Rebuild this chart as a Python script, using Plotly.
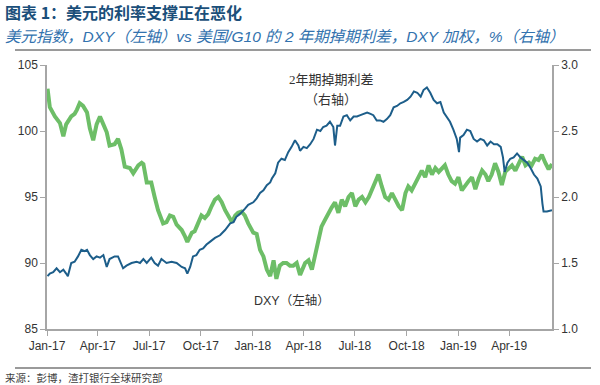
import plotly.graph_objects as go

# DXY (left axis)
dxy_dates = ["2017-01-02","2017-01-06","2017-01-15","2017-01-24","2017-01-30","2017-02-04","2017-02-13","2017-02-19","2017-02-23","2017-02-28",
"2017-03-06","2017-03-13","2017-03-18","2017-03-24","2017-03-30","2017-04-05","2017-04-11","2017-04-17","2017-04-22","2017-05-01",
"2017-05-07","2017-05-13","2017-05-19","2017-05-28","2017-06-03","2017-06-12","2017-06-18","2017-06-21","2017-06-27","2017-07-05",
"2017-07-11","2017-07-17","2017-07-26","2017-08-01","2017-08-07","2017-08-13","2017-08-19","2017-08-28","2017-09-03","2017-09-07",
"2017-09-15","2017-09-20","2017-09-26","2017-10-02","2017-10-08","2017-10-14","2017-10-20","2017-10-26","2017-11-01","2017-11-07",
"2017-11-13","2017-11-19","2017-11-25","2017-12-01","2017-12-06","2017-12-12","2017-12-18","2017-12-24","2018-01-02","2018-01-08",
"2018-01-14","2018-01-20","2018-01-26","2018-02-01","2018-02-07","2018-02-12","2018-02-18","2018-02-24","2018-03-02","2018-03-08",
"2018-03-14","2018-03-20","2018-03-26","2018-04-04","2018-04-10","2018-04-16","2018-04-22","2018-04-28","2018-05-03","2018-05-09",
"2018-05-15","2018-05-21","2018-05-27","2018-06-02","2018-06-08","2018-06-14","2018-06-20","2018-06-26","2018-07-02","2018-07-08",
"2018-07-14","2018-07-20","2018-07-26","2018-07-31","2018-08-06","2018-08-12","2018-08-18","2018-08-24","2018-08-30","2018-09-05",
"2018-09-11","2018-09-17","2018-09-23","2018-09-29","2018-10-04","2018-10-10","2018-10-16","2018-10-22","2018-10-28","2018-11-03",
"2018-11-09","2018-11-15","2018-11-21","2018-11-27","2018-12-03","2018-12-08","2018-12-14","2018-12-20","2018-12-26","2019-01-01",
"2019-01-07","2019-01-13","2019-01-19","2019-01-25","2019-01-31","2019-02-06","2019-02-12","2019-02-18","2019-02-23","2019-03-01",
"2019-03-07","2019-03-13","2019-03-19","2019-03-25","2019-03-31","2019-04-06","2019-04-12","2019-04-18","2019-04-24","2019-04-30",
"2019-05-06","2019-05-11","2019-05-17","2019-05-23","2019-05-29","2019-06-04","2019-06-10","2019-06-16"]
dxy_values = [103.2,101.8,101.1,100.6,99.6,100.5,101.1,101.3,101.6,102.1,
101.9,101.4,100.2,99.3,100.5,101.1,100.5,99.9,98.9,99.0,
99.4,98.6,97.3,97.2,96.8,97.4,97.6,97.5,96.1,96.1,
95.0,94.0,93.0,93.1,93.6,93.5,92.9,92.5,92.0,91.6,
92.3,92.4,93.0,93.6,93.4,93.7,94.3,94.8,95.0,94.6,
94.0,93.6,93.1,93.6,93.8,93.9,93.6,93.0,92.3,92.2,
91.0,90.5,89.5,89.0,90.2,88.8,89.8,90.0,90.0,89.8,
89.8,90.0,89.1,90.0,90.2,89.5,90.7,92.0,92.75,93.25,
93.8,94.2,94.6,93.8,94.8,94.3,95.0,95.3,94.3,94.8,
95.0,94.6,95.0,95.5,96.0,96.7,95.8,95.0,94.8,95.3,
94.8,94.3,94.0,95.3,95.8,95.5,96.0,96.5,97.0,96.5,
97.4,96.7,97.2,96.9,97.2,97.4,96.7,96.2,96.0,96.5,
95.5,95.9,96.2,96.5,95.6,96.4,97.0,96.7,96.2,96.7,
97.55,96.9,95.9,96.9,97.2,97.4,97.0,97.55,98.05,97.4,
97.6,97.4,97.9,97.8,98.2,97.6,97.1,97.5]

# US/G10 2y swap spread, DXY weighted, % (right axis)
spread_dates = ["2017-01-02","2017-01-06","2017-01-12","2017-01-18","2017-01-24","2017-01-30","2017-02-04","2017-02-07","2017-02-13","2017-02-19",
"2017-02-25","2017-03-03","2017-03-09","2017-03-13","2017-03-18","2017-03-24","2017-03-30","2017-04-05","2017-04-11","2017-04-17",
"2017-04-22","2017-05-01","2017-05-07","2017-05-16","2017-05-22","2017-05-31","2017-06-09","2017-06-15","2017-06-21","2017-06-27",
"2017-07-05","2017-07-11","2017-07-17","2017-07-23","2017-08-01","2017-08-10","2017-08-19","2017-08-28","2017-09-03","2017-09-07",
"2017-09-12","2017-09-17","2017-09-23","2017-09-29","2017-10-05","2017-10-11","2017-10-17","2017-10-26","2017-11-04","2017-11-13",
"2017-11-22","2017-11-28","2017-12-03","2017-12-09","2017-12-18","2017-12-24","2018-01-02","2018-01-08","2018-01-14","2018-01-20",
"2018-01-26","2018-02-01","2018-02-04","2018-02-10","2018-02-15","2018-02-21","2018-02-27","2018-03-05","2018-03-11","2018-03-17",
"2018-03-23","2018-03-26","2018-04-01","2018-04-07","2018-04-13","2018-04-19","2018-04-25","2018-05-01","2018-05-06","2018-05-12",
"2018-05-18","2018-05-24","2018-05-27","2018-05-31","2018-06-05","2018-06-11","2018-06-17","2018-06-23","2018-06-29","2018-07-05",
"2018-07-11","2018-07-17","2018-07-23","2018-07-29","2018-08-03","2018-08-09","2018-08-15","2018-08-21","2018-08-27","2018-09-02",
"2018-09-08","2018-09-14","2018-09-20","2018-09-26","2018-10-02","2018-10-08","2018-10-14","2018-10-20","2018-10-26","2018-10-31",
"2018-11-06","2018-11-12","2018-11-18","2018-11-24","2018-11-30","2018-12-06","2018-12-11","2018-12-17","2018-12-23","2018-12-29",
"2019-01-02","2019-01-04","2019-01-10","2019-01-16","2019-01-22","2019-01-28","2019-02-03","2019-02-09","2019-02-15","2019-02-21",
"2019-02-27","2019-03-05","2019-03-11","2019-03-17","2019-03-21","2019-03-24","2019-03-29","2019-04-03","2019-04-09","2019-04-15",
"2019-04-21","2019-04-27","2019-05-03","2019-05-09","2019-05-15","2019-05-21","2019-05-27","2019-05-30","2019-06-01","2019-06-07",
"2019-06-16"]
spread_values = [1.40,1.42,1.43,1.46,1.43,1.45,1.42,1.40,1.50,1.51,
1.55,1.60,1.59,1.60,1.56,1.53,1.55,1.54,1.56,1.47,
1.53,1.55,1.55,1.46,1.48,1.50,1.51,1.50,1.53,1.50,
1.54,1.50,1.48,1.53,1.50,1.51,1.50,1.47,1.46,1.42,
1.47,1.55,1.56,1.60,1.61,1.64,1.66,1.69,1.71,1.75,
1.80,1.81,1.85,1.87,1.91,1.94,1.96,1.99,2.03,2.05,
2.09,2.11,2.14,2.18,2.26,2.29,2.28,2.34,2.38,2.43,
2.39,2.35,2.38,2.37,2.40,2.44,2.51,2.50,2.53,2.54,
2.57,2.53,2.39,2.54,2.54,2.61,2.62,2.58,2.61,2.61,
2.62,2.63,2.64,2.63,2.62,2.58,2.58,2.57,2.59,2.62,
2.68,2.69,2.71,2.72,2.735,2.76,2.80,2.79,2.76,2.81,
2.83,2.79,2.735,2.71,2.72,2.64,2.61,2.57,2.51,2.44,
2.34,2.45,2.47,2.51,2.50,2.44,2.42,2.44,2.43,2.39,
2.42,2.40,2.40,2.38,2.30,2.19,2.26,2.29,2.30,2.33,
2.30,2.28,2.26,2.22,2.17,2.14,2.08,1.95,1.89,1.89,
1.90]

x_range = ["2017-01-01", "2019-06-16"]
left_ticks = [85, 90, 95, 100, 105]
right_ticks = [1.0, 1.5, 2.0, 2.5, 3.0]

title_text = "图表 1：美元的利率支撑正在恶化"
subtitle_text = "美元指数，DXY（左轴）vs 美国/G10 的 2 年期掉期利差，DXY 加权，%（右轴）"
source_text = "来源：彭博，渣打银行全球研究部"

CJK = "Noto Sans CJK SC"
AXIS_GREY = "#A6A6A6"
TICK_FONT = dict(family="Liberation Sans, Arial", size=12, color="#333333")

fig = go.Figure()
fig.add_trace(go.Scatter(x=dxy_dates, y=dxy_values, mode="lines", yaxis="y",
                         line=dict(color="#6DBE67", width=4), showlegend=False))
fig.add_trace(go.Scatter(x=spread_dates, y=spread_values, mode="lines", yaxis="y2",
                         line=dict(color="#1D5E8A", width=2), showlegend=False))

fig.update_layout(
    width=600, height=385,
    margin=dict(l=47, r=48, t=65, b=56),
    paper_bgcolor="white", plot_bgcolor="white",
    xaxis=dict(range=x_range, type="date", tick0="2017-01-01", dtick="M3", tickformat="%b-%y",
               showgrid=False, zeroline=False, showline=True, linecolor=AXIS_GREY, linewidth=1.5,
               ticks="outside", ticklen=5, tickcolor=AXIS_GREY, tickfont=TICK_FONT),
    yaxis=dict(range=[85, 105], tickvals=left_ticks, showgrid=False, zeroline=False,
               showline=True, linecolor=AXIS_GREY, linewidth=1.5, ticks="outside", ticklen=5,
               tickcolor=AXIS_GREY, tickfont=TICK_FONT),
    yaxis2=dict(range=[1, 3], tickvals=right_ticks, tickformat=".1f", overlaying="y", side="right",
                showgrid=False, zeroline=False, showline=True, linecolor=AXIS_GREY, linewidth=1.5,
                ticks="outside", ticklen=5, tickcolor=AXIS_GREY, tickfont=TICK_FONT),
)

def px_x(x):
    return (x - 47) / 505.0

def px_y(y):
    return (329 - y) / 264.0

fig.add_annotation(x=px_x(3), y=px_y(12), xref="paper", yref="paper", xanchor="left", yanchor="middle",
                   text="<b>" + title_text + "</b>", showarrow=False,
                   font=dict(family=CJK, size=16, color="#1B4F7A"))
fig.add_annotation(x=px_x(3), y=px_y(36), xref="paper", yref="paper", xanchor="left", yanchor="middle",
                   text="<i>" + subtitle_text + "</i>", showarrow=False,
                   font=dict(family="Liberation Sans, " + CJK, size=15.5, color="#3272AE"))
fig.add_annotation(x=px_x(3), y=px_y(377), xref="paper", yref="paper", xanchor="left", yanchor="middle",
                   text=source_text, showarrow=False,
                   font=dict(family=CJK, size=10.5, color="#404040"))

fig.add_annotation(x=px_x(331), y=px_y(80), xref="paper", yref="paper", xanchor="center", yanchor="middle",
                   text="2年期掉期利差", showarrow=False,
                   font=dict(family="Liberation Serif, " + CJK, size=13, color="#333333"))
fig.add_annotation(x=px_x(331), y=px_y(98), xref="paper", yref="paper", xanchor="center", yanchor="middle",
                   text="（右轴）", showarrow=False,
                   font=dict(family=CJK, size=13, color="#333333"))
fig.add_annotation(x=px_x(292), y=px_y(300), xref="paper", yref="paper", xanchor="center", yanchor="middle",
                   text="DXY（左轴）", showarrow=False,
                   font=dict(family="Liberation Sans, " + CJK, size=12.5, color="#333333"))

for yy in (50, 368):
    fig.add_shape(type="line", xref="paper", yref="paper", x0=px_x(15), x1=px_x(591),
                  y0=px_y(yy), y1=px_y(yy), line=dict(color="#9A9A9A", width=2))

fig.write_html("out.html", config={"displayModeBar": False},
               post_script="document.body.style.margin='0px';")
